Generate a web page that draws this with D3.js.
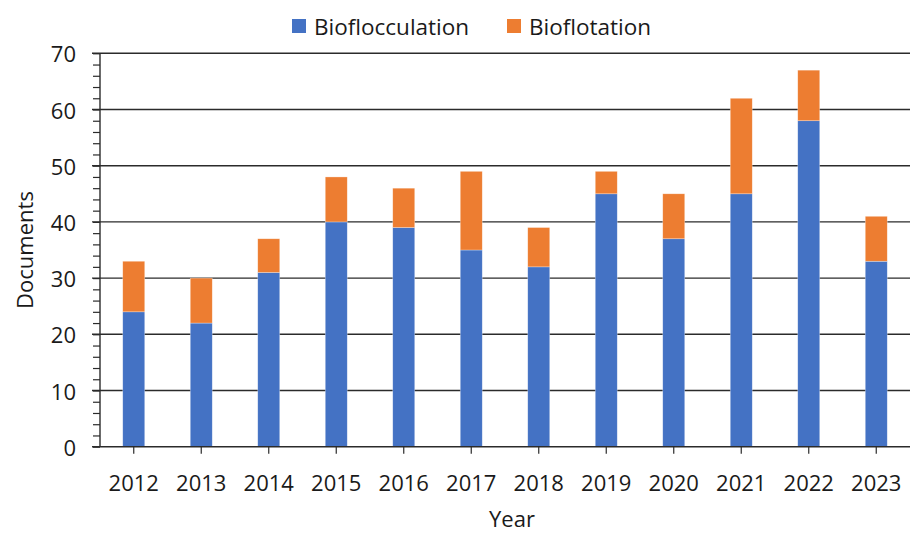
<!DOCTYPE html>
<html>
<head>
<meta charset="utf-8">
<script src="https://cdn.jsdelivr.net/npm/d3@7"></script>
<style>
  html, body { margin: 0; padding: 0; background: #fff; }
  svg { display: block; font-family: "Open Sans", sans-serif; }
</style>
</head>
<body>
<svg id="chart" width="911" height="534"></svg>
<script>
const years = ["2012","2013","2014","2015","2016","2017","2018","2019","2020","2021","2022","2023"];
const bioflocculation = [24, 22, 31, 40, 39, 35, 32, 45, 37, 45, 58, 33];
const bioflotation = [9, 8, 6, 8, 7, 14, 7, 4, 8, 17, 9, 8];
const seriesNames = ["Bioflocculation", "Bioflotation"];
const seriesColors = ["#4472C4", "#ED7D31"];
const yTicks = [0, 10, 20, 30, 40, 50, 60, 70];

const svg = d3.select("#chart");
const plotLeft = 100, plotRight = 910, plotTop = 53.3, plotBottom = 446.7;

const x = d3.scaleBand().domain(years).range([plotLeft, plotRight]).paddingInner(0).paddingOuter(0);
const y = d3.scaleLinear().domain([0, 70]).range([plotBottom, plotTop]);
const barW = 22;

const rows = years.map((yr, i) => ({ year: yr, Bioflocculation: bioflocculation[i], Bioflotation: bioflotation[i] }));
const stack = d3.stack().keys(seriesNames)(rows);

// gridlines
svg.append("g").selectAll("line").data(yTicks.filter(d => d > 0)).join("line")
  .attr("x1", 92).attr("x2", plotRight)
  .attr("y1", d => y(d)).attr("y2", d => y(d))
  .attr("stroke", "#2b2b2b").attr("stroke-width", 1.4);

// bars
svg.append("g").selectAll("g").data(stack).join("g")
  .attr("fill", (d, i) => seriesColors[i])
  .selectAll("rect").data(d => d).join("rect")
  .attr("x", d => x(d.data.year) + x.bandwidth() / 2 - barW / 2)
  .attr("width", barW)
  .attr("y", d => y(d[1]))
  .attr("height", d => y(d[0]) - y(d[1]))
  .attr("stroke", "rgba(255,255,255,0.5)").attr("stroke-width", 0.6);

// y axis
const yAxis = d3.axisLeft(y).tickValues(d3.range(0, 71, 2)).tickSize(7).tickFormat("");
const gy = svg.append("g").attr("transform", `translate(${plotLeft},0)`).call(yAxis);
gy.select(".domain").attr("stroke", "#2b2b2b").attr("stroke-width", 1.4).attr("d", `M0,${plotTop}V${plotBottom}`);
gy.selectAll(".tick line").attr("stroke", "#2b2b2b").attr("stroke-width", 1.2);

svg.append("g").selectAll("text").data(yTicks).join("text")
  .attr("x", 76).attr("y", d => y(d))
  .attr("text-anchor", "end").attr("dominant-baseline", "central")
  .attr("font-size", 22).attr("fill", "#1a1a1a")
  .text(d => d);

// x axis
const xAxis = d3.axisBottom(x).tickSize(7).tickSizeOuter(0).tickFormat("");
const gx = svg.append("g").attr("transform", `translate(0,${plotBottom})`).call(xAxis);
gx.select(".domain").attr("stroke", "#2b2b2b").attr("stroke-width", 1.4).attr("d", `M92,0H${plotRight}`);
gx.selectAll(".tick line").attr("stroke", "#2b2b2b").attr("stroke-width", 1.2);

svg.append("g").selectAll("text").data(years).join("text")
  .attr("x", d => x(d) + x.bandwidth() / 2).attr("y", 482)
  .attr("text-anchor", "middle").attr("dominant-baseline", "central")
  .attr("font-size", 22).attr("fill", "#1a1a1a")
  .text(d => d);

// axis titles
svg.append("text").attr("x", 512).attr("y", 518)
  .attr("text-anchor", "middle").attr("dominant-baseline", "central")
  .attr("font-size", 22).attr("fill", "#1a1a1a").text("Year");
svg.append("text").attr("transform", "translate(24,250) rotate(-90)")
  .attr("text-anchor", "middle").attr("dominant-baseline", "central")
  .attr("font-size", 22).attr("fill", "#1a1a1a").text("Documents");

// legend
const legendX = [292, 507];
const lg = svg.append("g").selectAll("g").data(seriesNames).join("g")
  .attr("transform", (d, i) => `translate(${legendX[i]},26)`);
lg.append("rect").attr("x", 0).attr("y", -7).attr("width", 14).attr("height", 14)
  .attr("fill", (d, i) => seriesColors[i]);
lg.append("text").attr("x", 22).attr("y", 0).attr("dominant-baseline", "central")
  .attr("font-size", 22.5).attr("fill", "#1a1a1a").text(d => d);
</script>
</body>
</html>
